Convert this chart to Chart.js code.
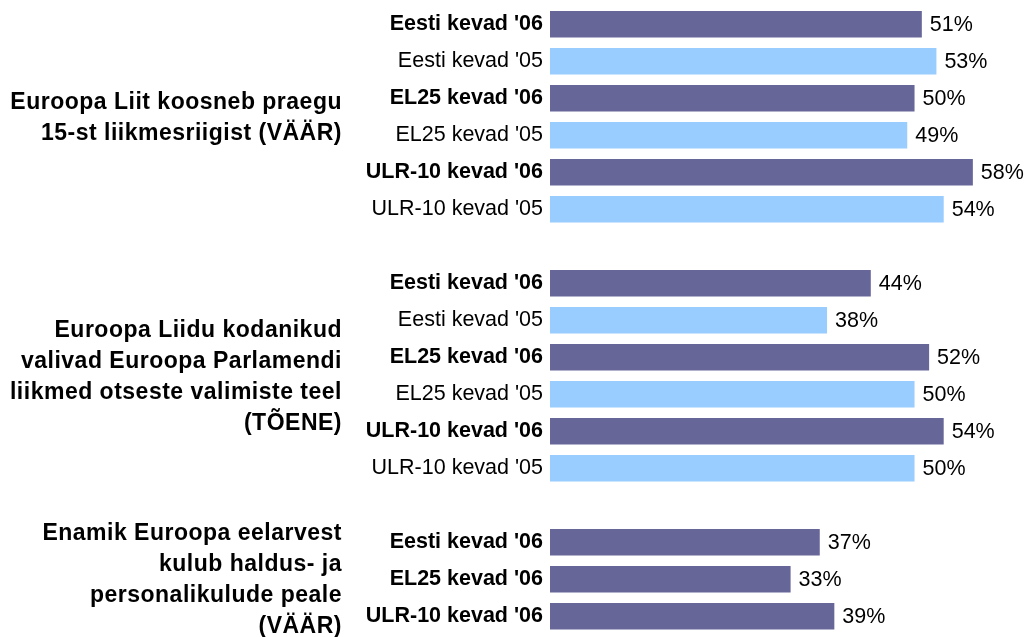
<!DOCTYPE html>
<html>
<head>
<meta charset="utf-8">
<script src="https://cdn.jsdelivr.net/npm/chart.js@4"></script>
<style>
  html, body { margin: 0; padding: 0; background: #fff; }
  #wrap { width: 1025px; height: 637px; }
</style>
</head>
<body>
<div id="wrap"><canvas id="chart" width="1025" height="637"></canvas></div>
<script>
// Andmed
const groupTitles = [
    ['Euroopa Liit koosneb praegu', '15-st liikmesriigist (VÄÄR)'],
    ['Euroopa Liidu kodanikud', 'valivad Euroopa Parlamendi', 'liikmed otseste valimiste teel', '(TÕENE)'],
    ['Enamik Euroopa eelarvest', 'kulub haldus- ja', 'personalikulude peale', '(VÄÄR)']
];
const labels1 = ["Eesti kevad '06", "Eesti kevad '05", "EL25 kevad '06", "EL25 kevad '05", "ULR-10 kevad '06", "ULR-10 kevad '05"];
const values1 = [51, 53, 50, 49, 58, 54];
const labels2 = ["Eesti kevad '06", "Eesti kevad '05", "EL25 kevad '06", "EL25 kevad '05", "ULR-10 kevad '06", "ULR-10 kevad '05"];
const values2 = [44, 38, 52, 50, 54, 50];
const labels3 = ["Eesti kevad '06", "EL25 kevad '06", "ULR-10 kevad '06"];
const values3 = [37, 33, 39];

const DARK = '#666699';
const LIGHT = '#99CCFF';
const FONT = '"Liberation Sans", Arial, Helvetica, sans-serif';

// Ridade kokkupanek, gruppide vahele tühi rida
const allLabels = [...labels1, '', ...labels2, '', ...labels3];
const allValues = [...values1, null, ...values2, null, ...values3];
const groupRanges = [[0, 5], [7, 12], [14, 16]];
const isNew = (lbl) => lbl.indexOf("'06") !== -1;

// Väärtused tulpade otsa
const valueLabels = {
    id: 'valueLabels',
    afterDatasetsDraw(chart) {
        const ctx = chart.ctx;
        const meta = chart.getDatasetMeta(0);
        ctx.save();
        ctx.font = '21.5px ' + FONT;
        ctx.fillStyle = '#000';
        ctx.textAlign = 'left';
        ctx.textBaseline = 'middle';
        meta.data.forEach((bar, i) => {
            const v = allValues[i];
            if (v === null) return;
            ctx.fillText(v + '%', bar.x + 8, bar.y + 1);
        });
        ctx.restore();
    }
};

// Gruppide pealkirjad vasakul
const groupLabels = {
    id: 'groupLabels',
    afterDraw(chart) {
        const ctx = chart.ctx;
        const y = chart.scales.y;
        ctx.save();
        ctx.font = 'bold 23px ' + FONT;
        ctx.letterSpacing = '0.5px';
        ctx.fillStyle = '#000';
        ctx.textAlign = 'right';
        ctx.textBaseline = 'middle';
        const lineH = 31;
        groupTitles.forEach((lines, g) => {
            const r = groupRanges[g];
            const center = y.getPixelForValue((r[0] + r[1]) / 2);
            const start = center - (lines.length - 1) * lineH / 2;
            lines.forEach((line, k) => {
                ctx.fillText(line, 342, start + k * lineH + 1);
            });
        });
        ctx.restore();
    }
};

new Chart(document.getElementById('chart'), {
    type: 'bar',
    data: {
        labels: allLabels,
        datasets: [{
            data: allValues,
            backgroundColor: allLabels.map(l => isNew(l) ? DARK : LIGHT),
            borderWidth: 0,
            barPercentage: 0.72,
            categoryPercentage: 1
        }]
    },
    options: {
        indexAxis: 'y',
        responsive: false,
        animation: false,
        layout: { padding: { top: 5.8, bottom: 2.2, left: 0, right: 1.1 } },
        plugins: {
            legend: { display: false },
            tooltip: { enabled: false }
        },
        scales: {
            x: {
                display: false,
                min: 0,
                max: 65
            },
            y: {
                grid: { display: false, drawTicks: false },
                border: { display: false },
                afterFit: function(scale) {
                    scale.width = 550;
                    scale.paddingTop = 0;
                    scale.paddingBottom = 0;
                },
                ticks: {
                    autoSkip: false,
                    padding: 7,
                    color: '#000',
                    font: function(ctx) {
                        const lbl = ctx.tick ? ctx.tick.label : '';
                        return { family: FONT, size: 21.5, weight: isNew(lbl) ? 'bold' : 'normal' };
                    }
                }
            }
        }
    },
    plugins: [valueLabels, groupLabels]
});
</script>
</body>
</html>
